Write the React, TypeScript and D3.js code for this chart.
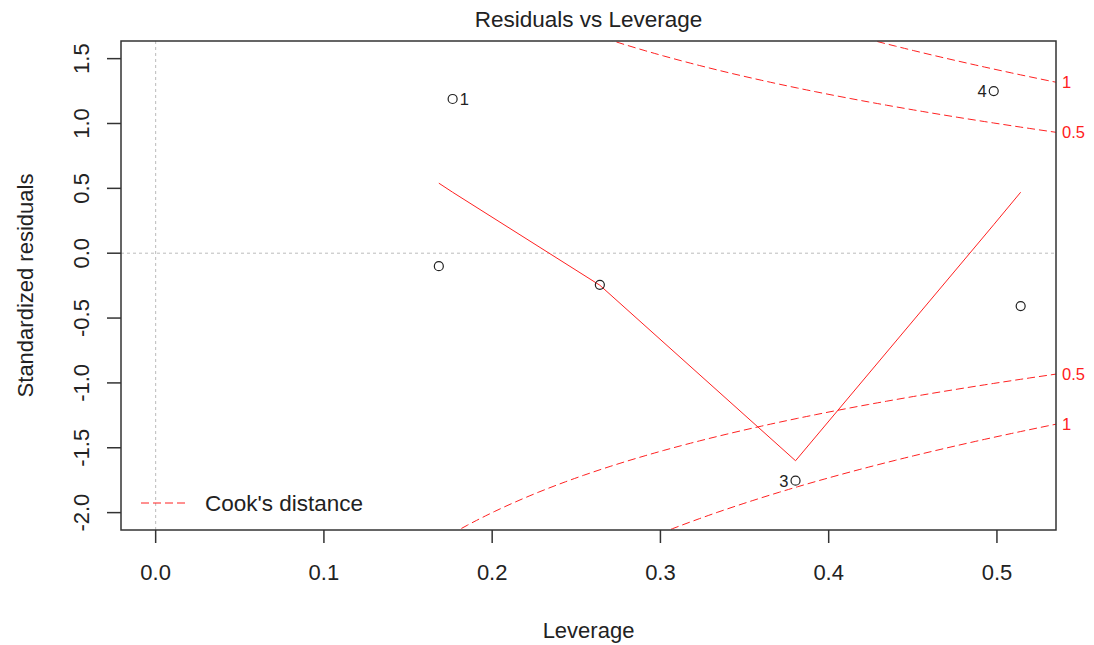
import React from 'react';
import * as d3 from 'd3';

const obsIds = ['1', '2', '3', '4', '5', '6'];
const leverage = [0.1765, 0.1683, 0.3803, 0.4981, 0.264, 0.5141];
const stdResiduals = [1.189, -0.1, -1.754, 1.25, -0.244, -0.408];
const labelledIds = ['1', '3', '4'];

// red smoother
const smoothLeverage = [0.1683, 0.1765, 0.264, 0.3803, 0.4981, 0.5141];
const smoothValues = [0.54, 0.47, -0.247, -1.6, 0.22, 0.47];

// cook's distance contours
const cookLevels = [0.5, 1];
const numParams = 2;

const xTicks = [0, 0.1, 0.2, 0.3, 0.4, 0.5];
const yTicks = [-2, -1.5, -1, -0.5, 0, 0.5, 1, 1.5];

const width = 1094;
const height = 645;
const margin = { left: 121, top: 41, right: 1056, bottom: 530 };
const font = '"Liberation Sans", Arial, sans-serif';
const ink = '#222';
const red = '#ff2020';

const fmt = (v: number) => v.toFixed(1);

export default function App() {
  const x = d3.scaleLinear().domain([-0.0206, 0.5351]).range([margin.left, margin.right]);
  const y = d3.scaleLinear().domain([-2.134, 1.636]).range([margin.bottom, margin.top]);

  const line = d3.line<[number, number]>()
    .x(d => x(d[0]))
    .y(d => y(d[1]));

  const hMax = x.domain()[1];
  const hMin = Math.min(d3.min(leverage)!, d3.max(leverage)! / 100);
  const hh = d3.range(101).map(i => hMin + (hMax - hMin) * i / 100);

  const cookCurve = (level: number, sign: number) =>
    hh.map(h => [h, sign * Math.sqrt(level * numParams * (1 - h) / h)] as [number, number]);

  const smooth = smoothLeverage.map((h, i) => [h, smoothValues[i]] as [number, number]);
  const meanX = d3.mean(x.domain())!;

  return (
    <svg width={width} height={height} style={{ position: 'absolute', left: 0, top: 0, background: '#fff' }}
      fontFamily={font}>
      <defs>
        <clipPath id="plotArea">
          <rect x={margin.left} y={margin.top} width={margin.right - margin.left} height={margin.bottom - margin.top} />
        </clipPath>
      </defs>

      <text x={(margin.left + margin.right) / 2} y={27} textAnchor="middle" fontSize={22.5} fill={ink}>
        Residuals vs Leverage
      </text>

      <g clipPath="url(#plotArea)">
        <line x1={x(0)} x2={x(0)} y1={margin.top} y2={margin.bottom} stroke="#bbb" strokeDasharray="3,3" />
        <line x1={margin.left} x2={margin.right} y1={y(0)} y2={y(0)} stroke="#bbb" strokeDasharray="3,3" />

        {cookLevels.map(level => [1, -1].map(sign => (
          <path key={`${level}-${sign}`} d={line(cookCurve(level, sign))!} fill="none"
            stroke={red} strokeWidth={1} strokeDasharray="8,4" />
        )))}

        <path d={line(smooth)!} fill="none" stroke={red} strokeWidth={1} />
      </g>

      {leverage.map((h, i) => (
        <circle key={obsIds[i]} cx={x(h)} cy={y(stdResiduals[i])} r={4.5} fill="none" stroke={ink} strokeWidth={1.2} />
      ))}
      {leverage.map((h, i) => {
        if (!labelledIds.includes(obsIds[i])) return null;
        const right = h < meanX;
        return (
          <text key={`lab-${obsIds[i]}`} x={x(h) + (right ? 7 : -7)} y={y(stdResiduals[i])} dy="0.36em"
            textAnchor={right ? 'start' : 'end'} fontSize={16.5} fill={ink}>
            {obsIds[i]}
          </text>
        );
      })}

      <rect x={margin.left} y={margin.top} width={margin.right - margin.left} height={margin.bottom - margin.top}
        fill="none" stroke="#333" strokeWidth={1.5} />

      {/* x axis */}
      {xTicks.map(t => (
        <g key={`x${t}`}>
          <line x1={x(t)} x2={x(t)} y1={margin.bottom} y2={margin.bottom + 13} stroke="#333" strokeWidth={1.5} />
          <text x={x(t)} y={572} dy="0.36em" textAnchor="middle" fontSize={22} fill={ink}>{fmt(t)}</text>
        </g>
      ))}
      <text x={(margin.left + margin.right) / 2} y={630} dy="0.36em" textAnchor="middle" fontSize={22} fill={ink}>
        Leverage
      </text>

      {/* y axis */}
      {yTicks.map(t => (
        <g key={`y${t}`}>
          <line x1={margin.left - 14} x2={margin.left} y1={y(t)} y2={y(t)} stroke="#333" strokeWidth={1.5} />
          <text transform={`translate(81,${y(t)}) rotate(-90)`} dy="0.36em" textAnchor="middle" fontSize={22} fill={ink}>
            {fmt(t)}
          </text>
        </g>
      ))}
      <text transform={`translate(25,${(margin.top + margin.bottom) / 2}) rotate(-90)`} dy="0.36em"
        textAnchor="middle" fontSize={22} fill={ink}>
        Standardized residuals
      </text>

      {/* contour labels in right margin */}
      {cookLevels.map(level => [1, -1].map(sign => (
        <text key={`cl-${level}-${sign}`} x={margin.right + 6} y={y(sign * Math.sqrt(level * numParams * (1 - hMax) / hMax))}
          dy="0.36em" fontSize={16.5} fill={red}>
          {level}
        </text>
      )))}

      {/* legend */}
      <line x1={141} x2={185} y1={503} y2={503} stroke={red} strokeDasharray="8,4" />
      <text x={205} y={503} dy="0.36em" fontSize={22.5} fill={ink}>Cook's distance</text>
    </svg>
  );
}
